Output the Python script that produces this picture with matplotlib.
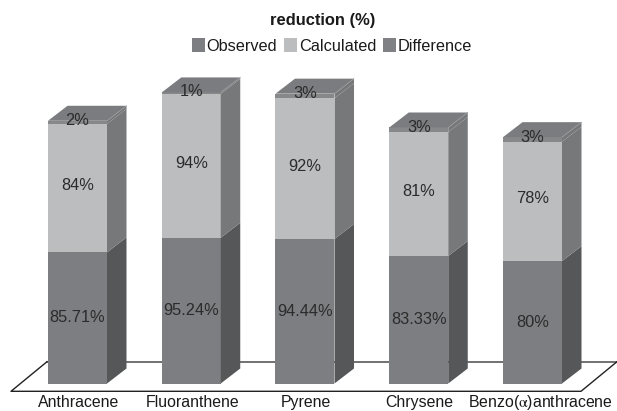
import matplotlib
matplotlib.use('Agg')
import matplotlib.pyplot as plt
from matplotlib.patches import Patch, Polygon

plt.rcParams['font.family'] = ['Liberation Sans', 'DejaVu Sans']
plt.rcParams['mathtext.fontset'] = 'stix'

# values
compounds = ['Anthracene', 'Fluoranthene', 'Pyrene', 'Chrysene', r'Benzo($\mathrm{\alpha}$)anthracene']
observed = [85.71, 95.24, 94.44, 83.33, 80]
calculated = [84, 94, 92, 81, 78]
difference = [2, 1, 3, 3, 3]
observed_labels = ['85.71%', '95.24%', '94.44%', '83.33%', '80%']
calculated_labels = ['84%', '94%', '92%', '81%', '78%']
difference_labels = ['2%', '1%', '3%', '3%', '3%']

# front, side and top shade for each stack part
shades = {
    'Observed': ('#7d7e82', '#565759', '#7d7e82'),
    'Calculated': ('#bcbdbf', '#77787a', '#bcbdbf'),
    'Difference': ('#87888a', '#77787a', '#7b7c7f'),
}

# axes scale: one category step = 113.75 px, one percent = 1.53 px
step_px = 113.75
unit_px = 1.53
bar_w = 59 / step_px
depth_x = 19.5 / step_px
depth_y = 15 / unit_px

fig = plt.figure(figsize=(6.17, 4.11), dpi=100)
ax = fig.add_axes([0, 0, 1, 1])
ax.set_xlim(-77.5 / step_px, (617 - 77.5) / step_px)
ax.set_ylim(-27.5 / unit_px, 383.5 / unit_px)
ax.axis('off')

# floor of the 3D plot
floor_front = -7.8 / unit_px
floor_back = 21.8 / unit_px
floor_l = -66.5 / step_px
floor_r = 503.5 / step_px
floor_dx = 36 / step_px
ax.plot([floor_l + floor_dx, floor_r + floor_dx], [floor_back, floor_back], color='#666666', lw=1.3, zorder=1)
ax.plot([floor_l + floor_dx, floor_l, floor_r, floor_r + floor_dx],
        [floor_back, floor_front, floor_front, floor_back], color='#222222', lw=1.0, zorder=1)


def draw_segment(x, y0, y1, name, top=False):
    front, side, lid = shades[name]
    l, r = x - bar_w / 2, x + bar_w / 2
    ax.add_patch(Polygon([(l, y0), (r, y0), (r, y1), (l, y1)], fc=front, ec='none', zorder=3))
    ax.add_patch(Polygon([(r, y0), (r + depth_x, y0 + depth_y), (r + depth_x, y1 + depth_y), (r, y1)],
                         fc=side, ec='none', zorder=3))
    if top:
        ax.add_patch(Polygon([(l, y1), (r, y1), (r + depth_x, y1 + depth_y), (l + depth_x, y1 + depth_y)],
                             fc=lid, ec='none', zorder=3))
        ax.plot([r, r + depth_x], [y1, y1 + depth_y], color='#9a9b9d', lw=0.5, zorder=4)


for i in range(len(compounds)):
    a = observed[i]
    b = a + calculated[i]
    c = b + difference[i]
    draw_segment(i, 0, a, 'Observed')
    draw_segment(i, a, b, 'Calculated')
    draw_segment(i, b, c, 'Difference', top=True)
    for y, lab, off in [(a / 2, observed_labels[i], 0), ((a + b) / 2, calculated_labels[i], 1.8),
                        ((b + c) / 2, difference_labels[i], 1.5)]:
        ax.annotate(lab, (i, y), xytext=(0, off), textcoords='offset points', ha='center', va='center',
                    fontsize=11.8, color='#2b2b2b', zorder=5)
    # last label is pushed right in the original so it fits the floor
    shift = 6 if i == len(compounds) - 1 else 0.7
    ax.annotate(compounds[i], (i, 0), xytext=(shift, -14), textcoords='offset points', ha='center', va='center',
                fontsize=11.4, color='#1a1a1a')

fig.text(323 / 617, 1 - 21 / 411, 'reduction (%)', ha='center', va='center', fontsize=11.9, fontweight='bold',
         color='#1a1a1a')

handles = [Patch(fc=shades[k][0], ec='none', label=k) for k in ['Observed', 'Calculated', 'Difference']]
handles[2].set_facecolor('#808185')
fig.legend(handles=handles, ncol=3, frameon=False, loc='center', bbox_to_anchor=(332 / 617, 1 - 46 / 411),
           fontsize=11.7, handlelength=0.8, handleheight=0.95, handletextpad=0.12, columnspacing=0.42,
           labelcolor='#1a1a1a', borderpad=0)

fig.savefig('out.png', dpi=100)
plt.close(fig)
